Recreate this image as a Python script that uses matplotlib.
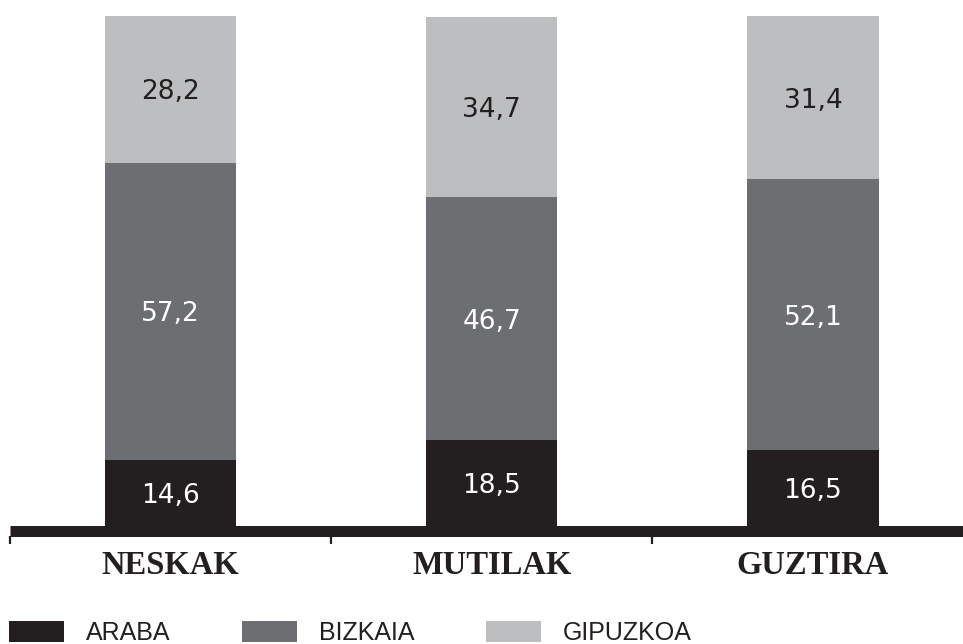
import matplotlib
matplotlib.use("Agg")
import matplotlib.pyplot as plt
from matplotlib.patches import Patch

# ── data ─────────────────────────────────────────────────────────────────────
categories = ["NESKAK", "MUTILAK", "GUZTIRA"]
araba      = [14.6, 18.5, 16.5]
bizkaia    = [57.2, 46.7, 52.1]
gipuzkoa   = [28.2, 34.7, 31.4]
series_names = ["ARABA", "BIZKAIA", "GIPUZKOA"]

colors     = ["#231f20", "#6d6e71", "#bcbec0"]
text_cols  = ["white", "white", "#231f20"]

W, H = 963, 644
fig = plt.figure(figsize=(W / 100, H / 100), dpi=100)
# axes: x from px 10 to 963, y from px 16 (100) to 536 (0)
ax = fig.add_axes([10 / W, (H - 536) / H, 953 / W, 520 / H])

x = list(range(len(categories)))
bar_w = 0.408
bottom = [0.0] * len(categories)
line_top = 2.1  # data height hidden under the thick base line

for vals, col, tcol in zip([araba, bizkaia, gipuzkoa], colors, text_cols):
    ax.bar(x, vals, width=bar_w, bottom=bottom, color=col, edgecolor="none", zorder=2)
    for xi, b, v in zip(x, bottom, vals):
        lo = max(b, line_top)
        ax.text(xi, (lo + b + v) / 2 - 0.6, f"{v:.1f}".replace(".", ","),
                ha="center", va="center", color=tcol, fontsize=19,
                family="DejaVu Sans", zorder=3)
    bottom = [b + v for b, v in zip(bottom, vals)]

ax.set_xlim(-0.5, 2.467)
ax.set_ylim(0, 100)

# thick base line
ax.plot([0, 1], [5.5 / 520, 5.5 / 520], transform=ax.transAxes, color="#231f20",
        lw=11 * 0.72, solid_capstyle="butt", clip_on=False, zorder=4)

for s in ax.spines.values():
    s.set_visible(False)
ax.set_yticks([])
ax.set_xticks([-0.5, 0.5, 1.5])
ax.set_xticklabels([])
ax.tick_params(axis="x", direction="out", length=5.5, width=1.6, color="#231f20")

for xi, name in zip(x, categories):
    ax.text(xi, -29 / 520 * 100, name, ha="center", va="center", fontsize=23.5,
            family="Liberation Serif", fontweight="bold", color="#231f20")

handles = [Patch(facecolor=c, edgecolor="none") for c in colors]
fig.legend(handles, series_names, loc="upper left",
           bbox_to_anchor=(9 / W, 1 - 621 / H), ncol=3, frameon=False,
           prop={"family": "Liberation Sans", "size": 18},
           handlelength=2.2, handleheight=0.88, handletextpad=0.88,
           columnspacing=2.85, borderpad=0, borderaxespad=0,
           labelcolor="#231f20")

fig.savefig("out.png", dpi=100)
